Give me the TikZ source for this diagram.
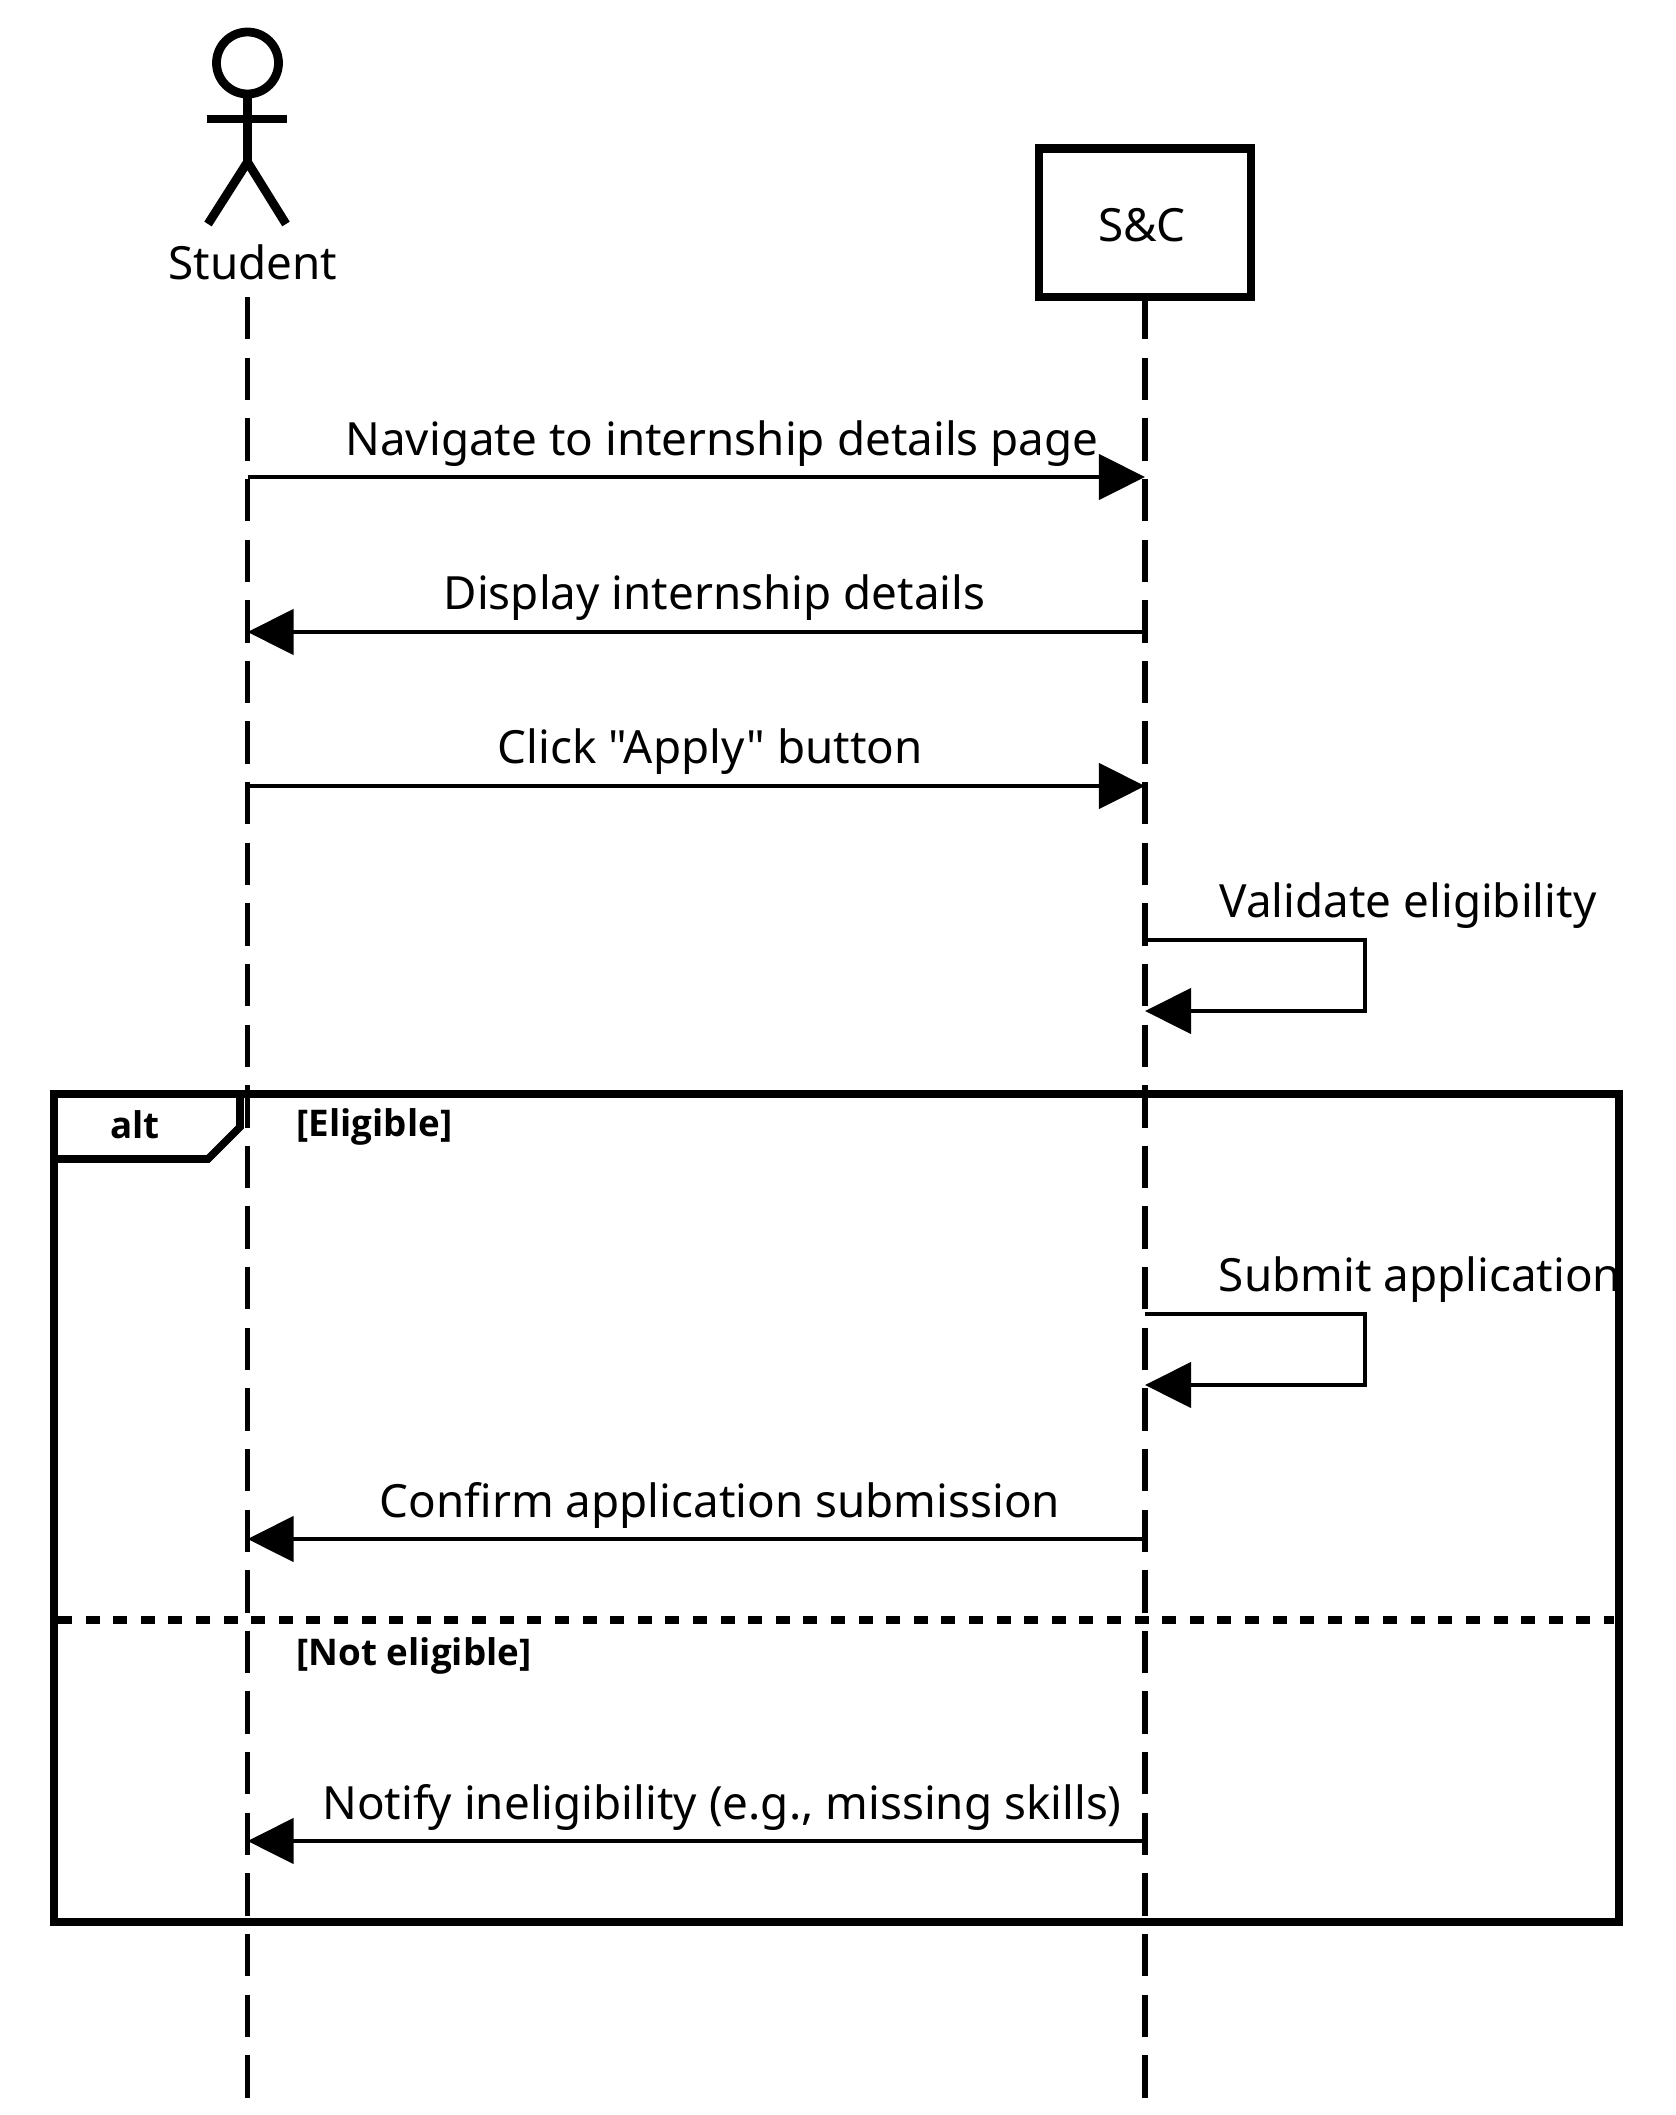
\documentclass[tikz,border=0pt]{standalone}
\usepackage{fontspec}
\setmainfont[Ligatures=TeXOff]{Noto Sans}
\newfontfamily\framefont{Open Sans}
\usetikzlibrary{arrows.meta}
\tikzset{
  lifeline/.style={line width=1.45pt,dash pattern=on 12.06pt off 5.18pt},
  msgline/.style={line width=1.3pt,-{Triangle[length=13.1pt,width=12.8pt]}},
  msglabel/.style={anchor=base,inner sep=0pt,font=\fontsize{13.02}{15}\selectfont},
  framelabel/.style={inner sep=0pt,font=\fontsize{10.45}{12}\selectfont\framefont\bfseries},
  framepart/.style={line width=2.2pt},
  actorpart/.style={line width=2.5pt}
}
\begin{document}
\begin{tikzpicture}[x=0.01cm,y=-0.01cm]
        \useasboundingbox (0,0) rectangle (1675,2115);
        % Student actor
        \draw[actorpart] (247.5,63) circle (31);
        \draw[actorpart] (247.5,94) -- (247.5,162);
        \draw[actorpart] (207,119) -- (287,119);
        \draw[actorpart] (208,224) -- (247.5,162) -- (286,224);
        \node[msglabel] (student) at (253,279) {Student};
        % S&C box
        \coordinate (sc_nw) at (1039,148.5);
        \coordinate (sc_se) at (1251,297);
        \draw[line width=2.3pt] (sc_nw) rectangle (sc_se);
        \node[msglabel] (sc) at (1142,241) {S\&C};
        % Lifelines
        \coordinate (student_top) at (247.5,297);
        \coordinate (student_end) at (247.5,2100);
        \coordinate (sc_top) at (1145,297);
        \coordinate (sc_end) at (1145,2100);
        \draw[lifeline] (student_top) -- (student_end);
        \draw[lifeline] (sc_top) -- (sc_end);
        % Messages
        \coordinate (student_1) at (247.5,477);
        \coordinate (sc_1) at (1145,477);
        \coordinate (student_2) at (247.5,632);
        \coordinate (sc_2) at (1145,632);
        \coordinate (student_3) at (247.5,786);
        \coordinate (sc_3) at (1145,786);
        \coordinate (sc_4) at (1145,940);
        \coordinate (sc_4b) at (1145,1011);
        \coordinate (loop_4a) at (1365,940);
        \coordinate (loop_4b) at (1365,1011);
        \coordinate (sc_5) at (1145,1314);
        \coordinate (sc_5b) at (1145,1385);
        \coordinate (loop_5a) at (1365,1314);
        \coordinate (loop_5b) at (1365,1385);
        \coordinate (student_6) at (247.5,1539);
        \coordinate (sc_6) at (1145,1539);
        \coordinate (student_7) at (247.5,1841);
        \coordinate (sc_7) at (1145,1841);
        \draw[msgline] (student_1) -- (sc_1);
        \draw[msgline] (sc_2) -- (student_2);
        \draw[msgline] (student_3) -- (sc_3);
        \draw[msgline] (sc_4) -- (loop_4a) -- (loop_4b) -- (sc_4b);
        \draw[msgline] (sc_5) -- (loop_5a) -- (loop_5b) -- (sc_5b);
        \draw[msgline] (sc_6) -- (student_6);
        \draw[msgline] (sc_7) -- (student_7);
        \node[msglabel] (lbl_1) at (722,455.5) {Navigate to internship details page};
        \node[msglabel] (lbl_2) at (714.5,609.5) {Display internship details};
        \node[msglabel] (lbl_3) at (710,763.5) {Click "Apply" button};
        \node[msglabel] (lbl_4) at (1408,917.5) {Validate eligibility};
        \node[msglabel] (lbl_5) at (1420,1291.5) {Submit application};
        \node[msglabel] (lbl_6) at (720,1517) {Confirm application submission};
        \node[msglabel] (lbl_7) at (722,1819) {Notify ineligibility (e.g., missing skills)};
        % alt frame
        \draw[framepart] (54,1094) rectangle (1619,1922);
        \draw[framepart] (240,1094) -- (240,1127) -- (208,1159) -- (54,1159);
        \draw[framepart,dash pattern=on 3.98pt off 3.87pt] (58,1620) -- (1614,1620);
        \node[framelabel] (alt) at (135,1125) {alt};
        \node[framelabel,anchor=west] (guard_1) at (296,1127) {[Eligible]};
        \node[framelabel,anchor=west] (guard_2) at (296,1656) {[Not eligible]};
\end{tikzpicture}
\end{document}
